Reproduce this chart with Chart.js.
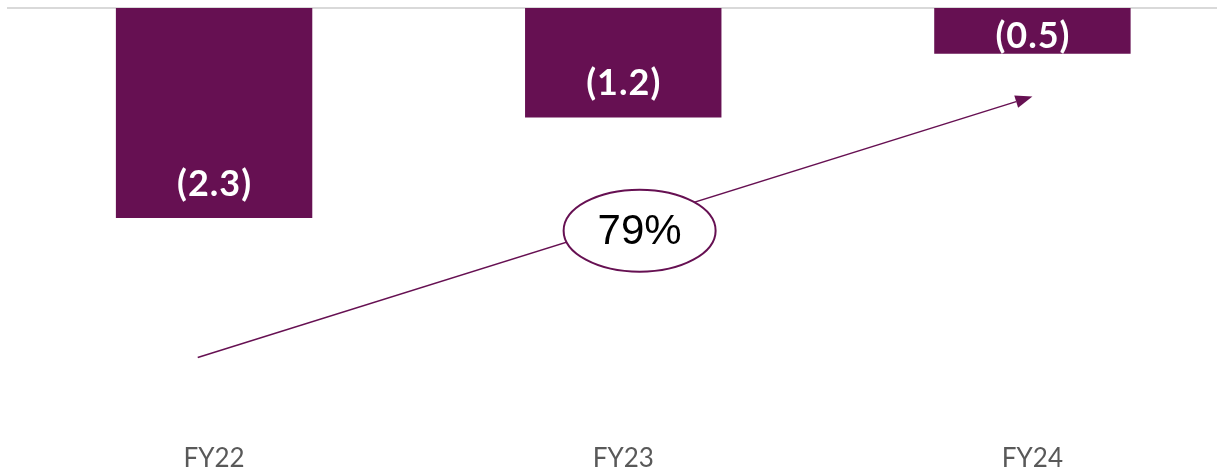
<!DOCTYPE html>
<html>
<head>
<meta charset="utf-8">
<script src="https://cdn.jsdelivr.net/npm/chart.js@4/dist/chart.umd.min.js"></script>
<style>
    html, body { margin: 0; padding: 0; background: #fff; overflow: hidden; }
    #wrap { width: 1237px; height: 474px; position: relative; }
</style>
</head>
<body>
<div id="wrap"><canvas id="myChart"></canvas></div>
<script>
const categories = ['FY22', 'FY23', 'FY24'];
const values = [-2.3, -1.2, -0.5];
const valueLabels = ['(2.3)', '(1.2)', '(0.5)'];

// growth arrow and bubble, in data units (category index, value)
const arrowFrom = [-0.04, -3.83];
const arrowTo = [2.0, -0.97];
const bubbleAt = [1.04, -2.44];
const bubbleText = '79%';

const purple = '#661052';

// zero line along the top
const zeroLine = {
    id: 'zeroLine',
    beforeDatasetsDraw(chart) {
        const ctx = chart.ctx;
        const y = chart.scales.y.getPixelForValue(0);
        ctx.save();
        ctx.strokeStyle = '#d9d9d9';
        ctx.lineWidth = 2;
        ctx.beginPath();
        ctx.moveTo(7, y);
        ctx.lineTo(chart.width, y);
        ctx.stroke();
        ctx.restore();
    }
};

// labels inside the end of each bar, kept inside the chart area
const barLabels = {
    id: 'barLabels',
    afterDatasetsDraw(chart) {
        const ctx = chart.ctx;
        const meta = chart.getDatasetMeta(0);
        ctx.save();
        ctx.fillStyle = '#ffffff';
        ctx.font = 'bold 36px Lato';
        ctx.letterSpacing = '1px';
        ctx.textAlign = 'center';
        ctx.textBaseline = 'middle';
        meta.data.forEach((bar, i) => {
            let y = bar.y - 34;
            const minY = chart.chartArea.top + 28;
            if (y < minY) y = minY;
            ctx.fillText(valueLabels[i], bar.x + 0.5, y);
        });
        ctx.restore();
    }
};

const growthArrow = {
    id: 'growthArrow',
    afterDatasetsDraw(chart) {
        const ctx = chart.ctx;
        const xs = chart.scales.x, ys = chart.scales.y;
        const px = (p) => [xs.getPixelForValue(p[0]), ys.getPixelForValue(p[1])];
        const [x1, y1] = px(arrowFrom);
        const [x2, y2] = px(arrowTo);
        const ang = Math.atan2(y2 - y1, x2 - x1);
        const head = 17, half = 6.5;
        ctx.save();
        ctx.strokeStyle = purple;
        ctx.fillStyle = purple;
        ctx.lineWidth = 1.5;
        ctx.beginPath();
        ctx.moveTo(x1, y1);
        ctx.lineTo(x2 - head * Math.cos(ang), y2 - head * Math.sin(ang));
        ctx.stroke();
        ctx.beginPath();
        ctx.moveTo(x2, y2);
        ctx.lineTo(x2 - head * Math.cos(ang) - half * Math.sin(ang), y2 - head * Math.sin(ang) + half * Math.cos(ang));
        ctx.lineTo(x2 - head * Math.cos(ang) + half * Math.sin(ang), y2 - head * Math.sin(ang) - half * Math.cos(ang));
        ctx.closePath();
        ctx.fill();

        const [cx, cy] = px(bubbleAt);
        ctx.beginPath();
        ctx.ellipse(cx, cy, 76, 41, 0, 0, Math.PI * 2);
        ctx.fillStyle = '#ffffff';
        ctx.fill();
        ctx.lineWidth = 2;
        ctx.strokeStyle = purple;
        ctx.stroke();
        ctx.fillStyle = '#000000';
        ctx.font = '42px "Liberation Sans"';
        ctx.textAlign = 'center';
        ctx.textBaseline = 'middle';
        ctx.fillText(bubbleText, cx, cy + 2);
        ctx.restore();
    }
};

const ctx = document.getElementById('myChart').getContext('2d');
const myChart = new Chart(ctx, {
    type: 'bar',
    data: {
        labels: categories,
        datasets: [{
            data: values,
            backgroundColor: purple,
            borderWidth: 0,
            categoryPercentage: 1,
            barPercentage: 0.48
        }]
    },
    options: {
        responsive: true,
        maintainAspectRatio: false,
        animation: false,
        layout: { padding: { top: 8, left: 9.5, right: 0, bottom: 0 } },
        plugins: {
            legend: { display: false },
            tooltip: { enabled: false }
        },
        scales: {
            x: {
                grid: { display: false, drawTicks: false },
                border: { display: false },
                ticks: {
                    color: '#595959',
                    font: { family: 'Lato', size: 26, lineHeight: 0.87 },
                    padding: 4
                }
            },
            y: {
                display: false,
                min: -4.77,
                max: 0
            }
        }
    },
    plugins: [zeroLine, barLabels, growthArrow]
});
</script>
</body>
</html>
